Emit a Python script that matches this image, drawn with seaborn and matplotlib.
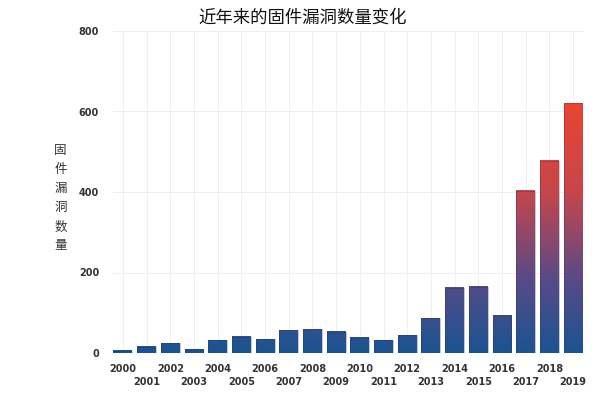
import numpy as np
import pandas as pd
import seaborn as sns
import matplotlib
matplotlib.use("Agg")
from matplotlib import pyplot as plt
from matplotlib.colors import LinearSegmentedColormap, Normalize

# firmware vulnerability counts per year
years = [str(y) for y in range(2000, 2020)]
counts = [5, 16, 24, 9, 32, 40, 34, 56, 59, 53,
          38, 32, 44, 86, 162, 164, 93, 403, 478, 621]

title = "近年来的固件漏洞数量变化"
ylabel = "固件漏洞数量"
yticks = [0, 200, 400, 600, 800]

sns.set_theme(style="white")
plt.rcParams['font.family'] = ['Noto Sans CJK SC', 'DejaVu Sans']

df = pd.DataFrame({"year": years, "count": counts})

fig = plt.figure(figsize=(6.13, 3.95), dpi=100)
ax = fig.add_axes([113 / 613, 42 / 395, 470 / 613, 322 / 395])

sns.barplot(data=df, x="year", y="count", ax=ax, width=0.8,
            color="#1c5290", saturation=1, zorder=2)

# vertical blue -> purple -> red gradient, keyed on the absolute value
cmap = LinearSegmentedColormap.from_list(
    "vuln", [(0.0, "#1a5492"), (0.3, "#5a4a86"),
             (0.65, "#c8464b"), (1.0, "#ea4430")], N=1024)
norm = Normalize(vmin=0, vmax=max(counts))
for p in ax.patches:
    x0, w, h = p.get_x(), p.get_width(), p.get_height()
    grad = np.linspace(0, h, 600).reshape(-1, 1)
    ax.imshow(grad, cmap=cmap, norm=norm, origin="lower", aspect="auto",
              extent=[x0, x0 + w, 0, h], zorder=2.5, interpolation="bilinear")
    p.set_facecolor("none")
    p.set_edgecolor((0.15, 0.15, 0.3, 0.3))
    p.set_linewidth(0.6)
    p.set_zorder(3)

ax.set_xlim(-0.42, len(years) - 0.58)
ax.set_ylim(0, 800)
ax.set_yticks(yticks)
ax.set_yticklabels([str(v) for v in yticks], fontsize=7, fontweight="bold",
                   color="#333333", family="DejaVu Sans")
ax.set_xticks(range(len(years)))
ax.set_xticklabels(years, fontsize=7, fontweight="bold", color="#333333",
                   family="DejaVu Sans")
ax.tick_params(axis="y", length=0, pad=10)
ax.tick_params(axis="x", length=0)
# alternate the year labels on two rows
for i, t in enumerate(ax.xaxis.get_major_ticks()):
    t.set_pad(8 if i % 2 == 0 else 17)

ax.grid(True, axis="both", color="#efefef", linewidth=0.7, zorder=0)
ax.set_axisbelow(True)
for s in ax.spines.values():
    s.set_visible(False)

ax.set_xlabel("")
ax.set_ylabel("\n".join(ylabel), rotation=0, fontsize=9, color="#333333",
              linespacing=1.6, va="center", ha="center")
ax.yaxis.set_label_coords(-0.112, 0.48)

fig.text(303 / 613, 1 - 18 / 395, title, ha="center", va="center",
         fontsize=12.5, fontweight="medium", color="#111111")

fig.savefig("out.png", dpi=100)
